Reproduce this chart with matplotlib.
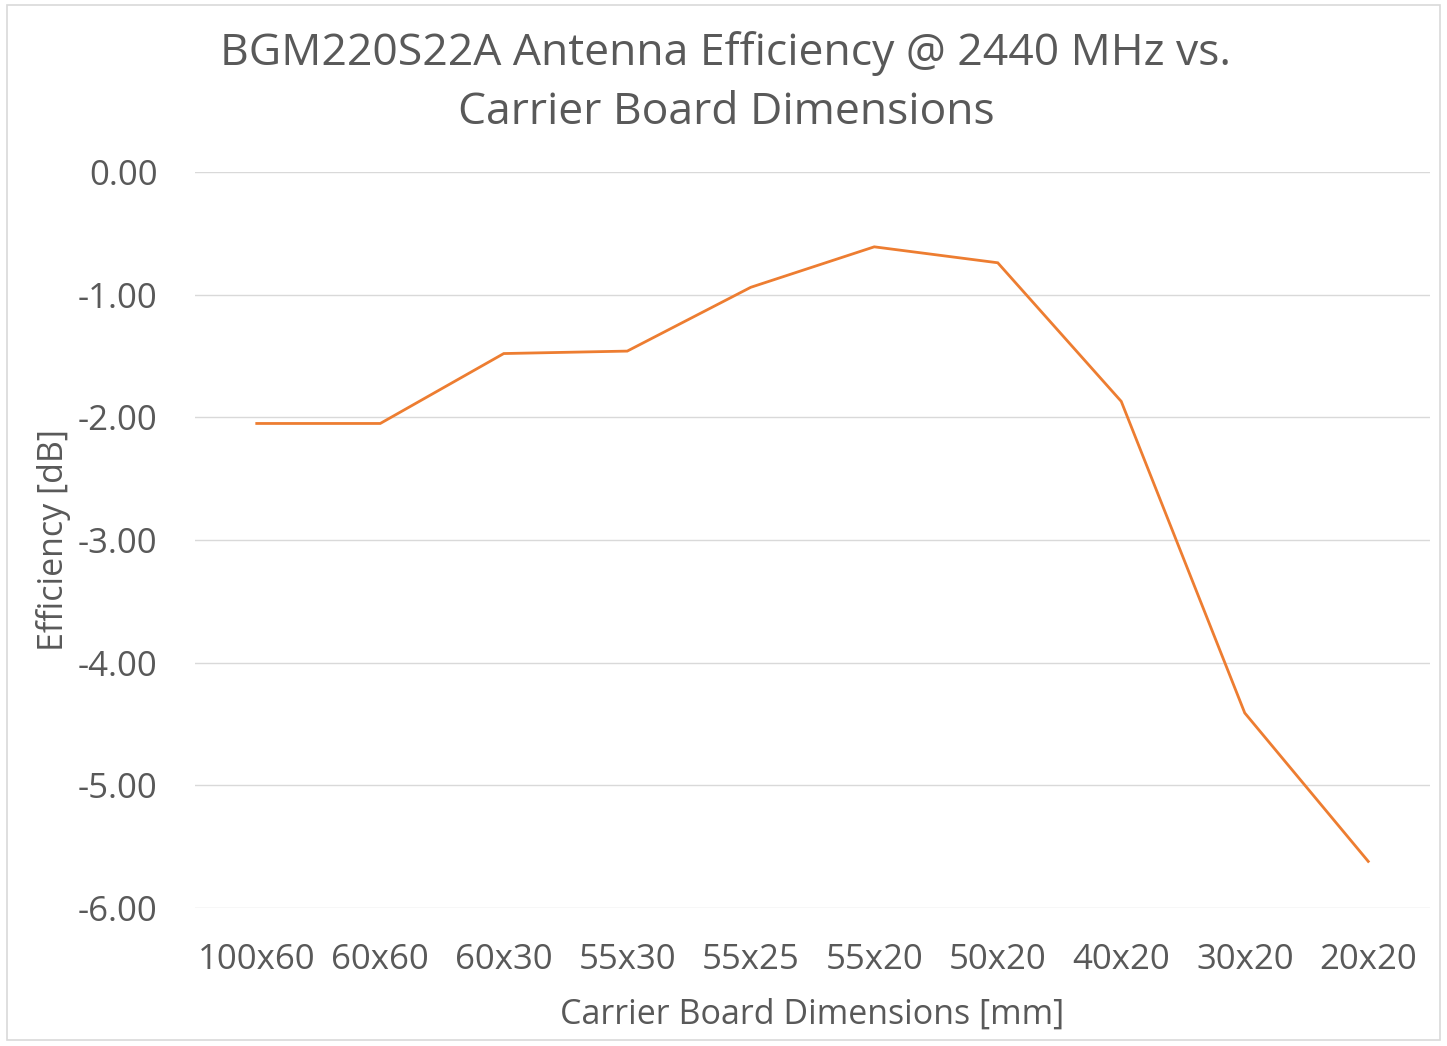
import matplotlib
matplotlib.use("Agg")
import matplotlib.pyplot as plt
from matplotlib.patches import Rectangle

categories = ["100x60", "60x60", "60x30", "55x30", "55x25", "55x20", "50x20", "40x20", "30x20", "20x20"]
efficiency_db = [-2.05, -2.05, -1.48, -1.46, -0.94, -0.61, -0.74, -1.87, -4.41, -5.62]
yticks = [0, -1, -2, -3, -4, -5, -6]

plt.rcParams['font.family'] = ['Open Sans', 'DejaVu Sans']
text_color = '#595959'

fig = plt.figure(figsize=(14.47, 10.46), dpi=100)
fig.patch.set_facecolor('white')
fig.add_artist(Rectangle((7/1447, 1 - 1040/1046), (1440-7)/1447, (1040-5)/1046,
                         transform=fig.transFigure, fill=False, edgecolor='#D9D9D9', lw=1.2))

ax = fig.add_axes([195/1447, 1 - 908/1046, (1430-195)/1447, (908-172)/1046])
x = list(range(len(categories)))
ax.plot(x, efficiency_db, color='#ED7D31', lw=2.0, solid_joinstyle='miter', zorder=3)
ax.set_xlim(-0.5, len(categories) - 0.5)
ax.set_ylim(-6, 0)
ax.set_yticks(yticks)
ax.set_yticklabels([f"{v:.2f}" for v in yticks])
ax.set_xticks(x)
ax.set_xticklabels(categories)
ax.grid(axis='y', color='#D9D9D9', lw=1.0)
ax.set_axisbelow(True)
for s in ax.spines.values():
    s.set_visible(False)
ax.tick_params(axis='both', length=0, labelsize=25, labelcolor=text_color)
ax.tick_params(axis='y', pad=27)
ax.tick_params(axis='x', pad=25)
ax.set_xlabel("Carrier Board Dimensions [mm]", fontsize=24.5, color=text_color, labelpad=15)
ax.set_ylabel("Efficiency [dB]", fontsize=24.5, color=text_color, labelpad=5)

fig.text(726/1447, 1 - 83/1046, "BGM220S22A Antenna Efficiency @ 2440 MHz vs.\nCarrier Board Dimensions",
         ha='center', va='center', fontsize=32, color=text_color, linespacing=1.46)

fig.savefig("out.png", dpi=100, facecolor='white')
